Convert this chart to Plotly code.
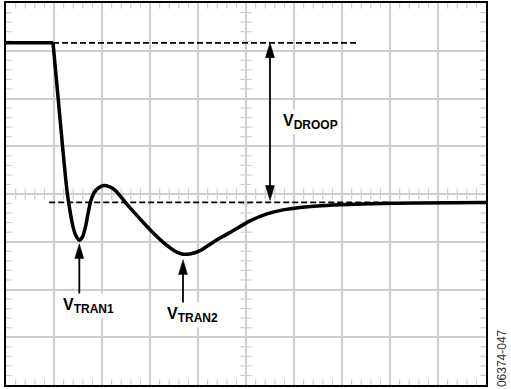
import numpy as np
import plotly.graph_objects as go

# ---- data (grid divisions: x 0..10, y 0..8) ----
curve_x = [0, 0.979, 1.083, 1.1875, 1.271, 1.333, 1.396, 1.458, 1.527, 1.594, 1.656,
           1.708, 1.760, 1.833, 1.9375, 2.042, 2.146, 2.271, 2.396, 2.521, 2.792,
           3.0625, 3.333, 3.521, 3.6875, 3.854, 4.042, 4.396, 4.729, 5.083, 5.4375,
           5.771, 6.125, 6.479, 6.958, 7.583, 8.5625, 10.0]
curve_y = [7.167, 7.167, 6.042, 4.896, 4.0625, 3.646, 3.3125, 3.125, 3.031, 3.104, 3.3125,
           3.583, 3.833, 4.021, 4.135, 4.177, 4.156, 4.083, 3.9375, 3.781, 3.479,
           3.1875, 2.9375, 2.802, 2.740, 2.75, 2.8125, 3.042, 3.229, 3.4375, 3.583,
           3.667, 3.719, 3.75, 3.775, 3.796, 3.8125, 3.822]

droop_level = 7.167
droop_line_x = [0.979, 7.35]
settle_level = 3.823
settle_line_x = [0.9, 8.0]

# arrows: (x, tip, tail)
arrow_x = [5.5, 5.5, 1.527, 3.6875]
arrow_tip = [7.167, 3.865, 2.96, 2.625]
arrow_tail = [5.5, 5.5, 1.84, 1.70]

label_text = ["V<sub>DROOP</sub>", "V<sub>TRAN1</sub>", "V<sub>TRAN2</sub>"]
label_x = [5.71, 1.125, 3.29]
label_y = [5.77, 1.917, 1.729]

fig_id = "06374-047"

GRID = "#cdcdcd"
PX = 48.0  # pixels per division (for arrow-head sizing)

fig = go.Figure()

# minor tick marks (edges and centre cross-hair)
minor_x = [v for v in np.arange(0, 10.001, 0.2) if abs(v - round(v)) > 1e-6]
minor_y = [v for v in np.arange(0, 8.001, 0.2) if abs(v - round(v)) > 1e-6]
tx = []
ty = []
for yy in [0, 4, 8]:
    tx += minor_x
    ty += [yy] * len(minor_x)
fig.add_trace(go.Scatter(x=tx, y=ty, mode="markers", hoverinfo="skip", showlegend=False,
                         marker=dict(symbol="line-ns-open", size=8, color=GRID,
                                     line=dict(color=GRID, width=1.2))))
tx = []
ty = []
for xx in [0, 5, 10]:
    ty += minor_y
    tx += [xx] * len(minor_y)
fig.add_trace(go.Scatter(x=tx, y=ty, mode="markers", hoverinfo="skip", showlegend=False,
                         marker=dict(symbol="line-ew-open", size=8, color=GRID,
                                     line=dict(color=GRID, width=1.2))))

# dashed reference lines
fig.add_trace(go.Scatter(x=droop_line_x, y=[droop_level] * 2, mode="lines", showlegend=False,
                         line=dict(color="black", width=1.8, dash="6px,3px")))
fig.add_trace(go.Scatter(x=settle_line_x, y=[settle_level] * 2, mode="lines", showlegend=False,
                         line=dict(color="black", width=1.8, dash="6px,3px")))

# waveform: flat part (linear) + transient (spline)
fig.add_trace(go.Scatter(x=curve_x[:2], y=curve_y[:2], mode="lines", showlegend=False,
                         line=dict(color="black", width=3.5)))
fig.add_trace(go.Scatter(x=curve_x[1:], y=curve_y[1:], mode="lines", showlegend=False,
                         line=dict(color="black", width=3.5, shape="spline", smoothing=0.6)))

# arrows
head_len = 15 / PX
head_hw = 4.5 / PX
shapes = []
shapes.append(dict(type="line", xref="x", yref="y", x0=arrow_x[0], x1=arrow_x[1],
                   y0=arrow_tip[0] - head_len * 0.5, y1=arrow_tip[1] + head_len * 0.5,
                   line=dict(color="black", width=1.8)))
for i in range(2, 4):
    shapes.append(dict(type="line", xref="x", yref="y", x0=arrow_x[i], x1=arrow_x[i],
                       y0=arrow_tail[i], y1=arrow_tip[i] - head_len * 0.5,
                       line=dict(color="black", width=1.8)))
for i in range(4):
    d = -1 if i == 1 else 1
    xx, tip = arrow_x[i], arrow_tip[i]
    base = tip - d * head_len
    path = f"M {xx - head_hw} {base} L {xx} {tip} L {xx + head_hw} {base} Z"
    shapes.append(dict(type="path", xref="x", yref="y", path=path,
                       fillcolor="black", line=dict(color="black", width=0.5)))

annotations = []
for t, x, y in zip(label_text, label_x, label_y):
    sub_t = t.replace("<sub>", "<sub><span style='font-size:12px'>").replace("</sub>", "</span></sub>")
    annotations.append(dict(text="<b>" + sub_t + "</b>", x=x, y=y, xref="x", yref="y",
                            xanchor="left", yanchor="top", showarrow=False,
                            bgcolor="white", borderpad=2,
                            font=dict(family="Liberation Sans, Arial, Helvetica", size=16, color="black")))
annotations.append(dict(text=fig_id, x=1.033, y=0.07, xref="paper", yref="paper",
                        textangle=-90, showarrow=False, xanchor="center", yanchor="middle",
                        font=dict(family="Liberation Sans, Arial", size=12, color="#333333")))

axis_common = dict(showgrid=True, gridcolor=GRID, gridwidth=1.5, dtick=1, tick0=0,
                   showline=True, linecolor="black", linewidth=2, mirror=True,
                   ticks="", showticklabels=False, zeroline=False, fixedrange=True)
fig.update_layout(
    width=511, height=389,
    margin=dict(l=6, r=25, t=1, b=4, pad=0),
    paper_bgcolor="white", plot_bgcolor="white",
    xaxis=dict(range=[0, 10], **axis_common),
    yaxis=dict(range=[0, 8], **axis_common),
    shapes=shapes, annotations=annotations, showlegend=False,
)

fig.write_html("out.html", config={"displayModeBar": False},
               post_script="document.body.style.margin='0';document.body.style.overflow='hidden';")
